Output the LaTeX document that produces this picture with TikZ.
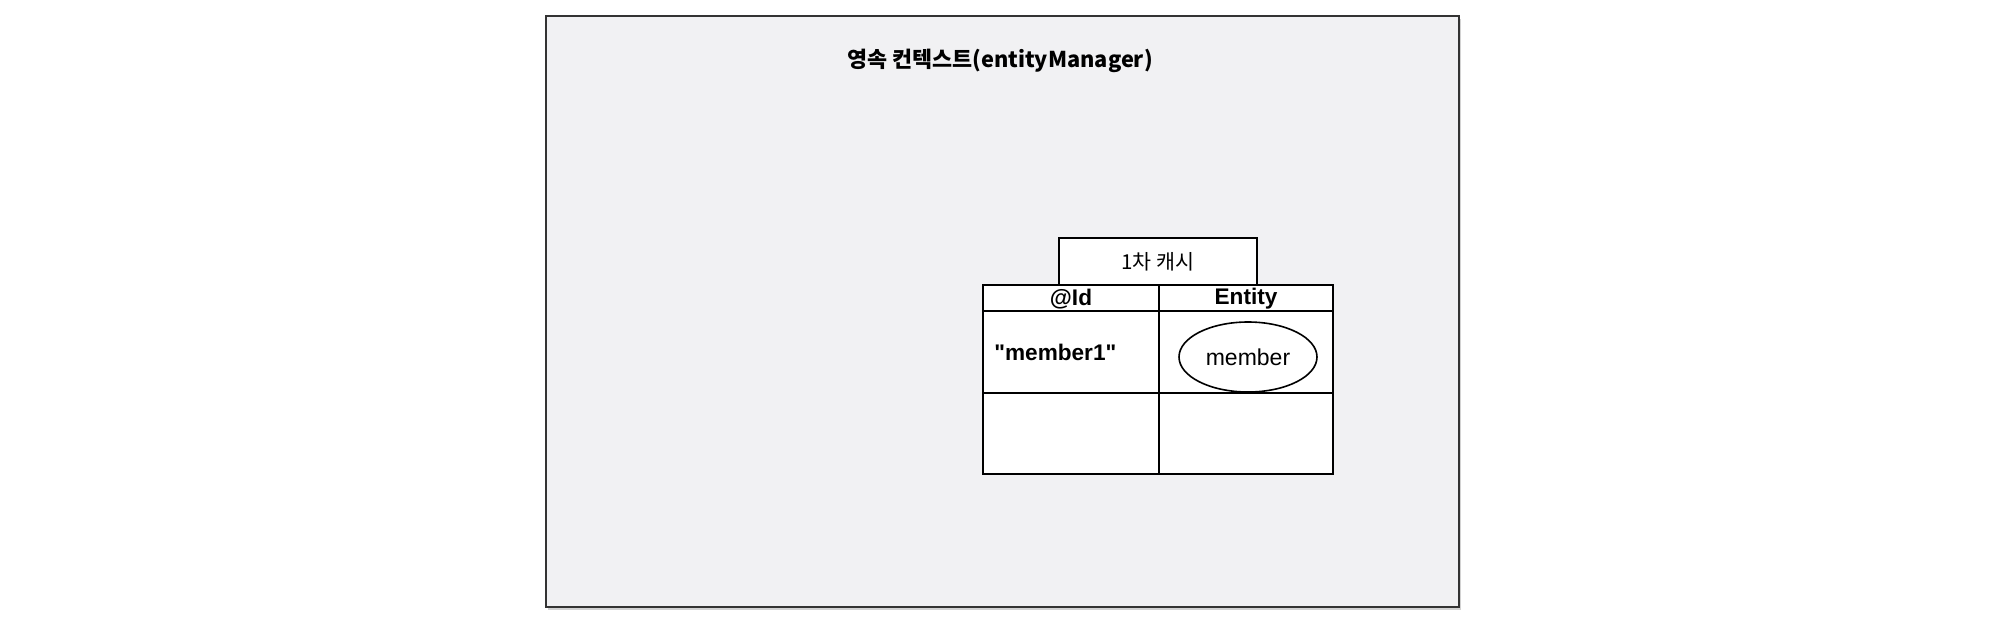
\documentclass[tikz,border=0pt]{standalone}
\usepackage{fontspec}
\setmainfont{Liberation Sans}
\newfontfamily\kr{Noto Sans CJK KR}
\usetikzlibrary{shadows,shapes.geometric}
\definecolor{ctxfill}{HTML}{F1F1F3}
\definecolor{ctxline}{HTML}{333333}
\tikzset{
  ctxbox/.style={draw=ctxline, line width=1.1pt, fill=ctxfill, drop shadow={shadow xshift=1.2pt, shadow yshift=-1.5pt, opacity=0.35}},
  cell/.style={draw=black, line width=0.8pt, fill=white},
  celltxt/.style={inner sep=0pt, font=\fontsize{11.3pt}{13pt}\selectfont},
}
\begin{document}
\begin{tikzpicture}[x=0.5pt,y=-0.5pt]
\useasboundingbox (0,0) rectangle (1999,622);
\fill[white] (0,0) rectangle (1999,622);
% outer context box
\path[ctxbox] (546,16) rectangle (1459,607);
\node (title) [inner sep=0pt, font=\kr\fontsize{10.9pt}{12pt}\selectfont\bfseries] at (1000,61) {영속 컨텍스트(entityManager)};
% cache tab
\path[cell] (1059,238) rectangle (1257,285);
\node (tab) [inner sep=0pt, font=\kr\fontsize{10.3pt}{12pt}\selectfont] at (1158,262) {1차 캐시};
% table
\path[cell] (983,285) rectangle (1333,474);
\draw[line width=0.8pt] (983,311) -- (1333,311);
\draw[line width=0.8pt] (983,393) -- (1333,393);
\draw[line width=0.8pt] (1159,285) -- (1159,474);
\node (idh) [celltxt, font=\fontsize{11.3pt}{13pt}\selectfont\bfseries] at (1071,299) {@Id};
\node (enth) [celltxt, font=\fontsize{11.3pt}{13pt}\selectfont\bfseries] at (1246,299) {Entity};
\node (key) [celltxt, anchor=west, font=\fontsize{11.3pt}{13pt}\selectfont\bfseries] at (994,352) {\textquotedbl member1\textquotedbl};
\node (val) [draw=black, line width=0.8pt, ellipse, minimum width=69pt, minimum height=35pt, inner sep=0pt, font=\fontsize{11.5pt}{13pt}\selectfont] at (1248,357) {member};
\end{tikzpicture}
\end{document}
